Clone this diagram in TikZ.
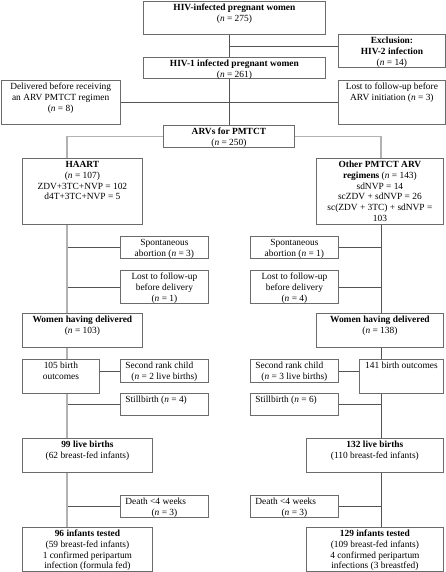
\documentclass[tikz,border=0pt]{standalone}
\usepackage{fontspec}
\setmainfont{Liberation Serif}

\definecolor{boxline}{gray}{0.42}
\definecolor{linkline}{gray}{0.33}
\definecolor{paleline}{gray}{0.70}

\newcommand{\ncount}[1]{(\textit{n} = #1)}
\newcommand{\cell}[3]{\parbox[t][\dimexpr#2pt-3pt][t]{\dimexpr#1pt-4pt}{\centering\strut #3}}

\tikzset{
	box/.style  = {draw=boxline, line width=0.8pt, anchor=north west, inner xsep=2pt, inner ysep=1.5pt, font=\fontsize{9.4}{10.8}\selectfont},
	link/.style = {draw=linkline, line width=0.8pt},
	pale/.style = {draw=paleline, line width=1.5pt}
}

\begin{document}
\begin{tikzpicture}[x=1pt,y=-1pt]
	\useasboundingbox (0,0) rectangle (446,572);
	% trunk positions
	\coordinate (lx) at (67,0);
	\coordinate (rx) at (381,0);
	\coordinate (exclj) at (228.5,46);

	% enrolment
	\node (top)   [box] at (143,1)   {\cell{182}{33}{\textbf{HIV-infected pregnant women}\\ \ncount{275}}};
	\node (excl)  [box] at (338,34)  {\cell{107}{33}{\textbf{Exclusion:}\\ \textbf{HIV-2 infection}\\ \ncount{14}}};
	\node (hiv1)  [box] at (143,57)  {\cell{182}{21}{\textbf{HIV-1 infected pregnant women}\\ \ncount{261}}};
	\node (deliv) [box] at (0.5,80)  {\cell{119.5}{44}{Delivered before receiving\\ an ARV PMTCT regimen\\ \ncount{8}}};
	\node (lost0) [box] at (338,80)  {\cell{107}{44}{Lost to follow-up before\\ ARV initiation \ncount{3}}};
	\node (arv)   [box] at (163,125) {\cell{131}{22}{\textbf{ARVs for PMTCT}\\ \ncount{250}}};

	% HAART arm
	\node (haart)   [box] at (22,158)  {\cell{120}{66}{\textbf{HAART}\\ \ncount{107}\\ ZDV+3TC+NVP = 102\\ d4T+3TC+NVP = 5}};
	\node (spontL)  [box] at (120,236) {\cell{88}{22}{Spontaneous\\ abortion \ncount{3}}};
	\node (lostL)   [box] at (120,270) {\cell{88}{33}{Lost to follow-up\\ before delivery\\ \ncount{1}}};
	\node (womenL)  [box] at (22,313)  {\cell{120}{34}{\textbf{Women having delivered}\\ \ncount{103}}};
	\node (birthL)  [box] at (22,359)  {\cell{77}{34}{105 birth\\ outcomes}};
	\node (secondL) [box] at (120,359) {\cell{88}{23}{\raggedright\hspace*{3pt}Second rank child\par\centering\ncount{2 live births}}};
	\node (stillL)  [box] at (120,393) {\cell{88}{22}{\raggedright\hspace*{3pt}Stillbirth \ncount{4}}};
	\node (liveL)   [box] at (22,438)  {\cell{130}{34}{\textbf{99 live births}\\ (62 breast-fed infants)}};
	\node (deathL)  [box] at (120,495) {\cell{88}{22}{\raggedright\hspace*{3pt}Death <4 weeks\par\centering\ncount{3}}};
	\node (testL)   [box] at (22,527)  {\cell{130}{44}{\textbf{96 infants tested}\\ (59 breast-fed infants)\\ 1 confirmed peripartum\\ infection (formula fed)}};

	% other regimens arm
	\node (other)   [box] at (316,158) {\cell{127}{66}{\textbf{Other PMTCT ARV}\\ \textbf{regimens} \ncount{143}\\ sdNVP = 14\\ scZDV + sdNVP = 26\\ sc(ZDV + 3TC) + sdNVP =\\ 103}};
	\node (spontR)  [box] at (250,236) {\cell{88}{22}{Spontaneous\\ abortion \ncount{1}}};
	\node (lostR)   [box] at (250,270) {\cell{88}{33}{Lost to follow-up\\ before delivery\\ \ncount{4}}};
	\node (womenR)  [box] at (316,313) {\cell{127}{34}{\textbf{Women having delivered}\\ \ncount{138}}};
	\node (secondR) [box] at (250,359) {\cell{88}{23}{\raggedright\hspace*{3pt}Second rank child\par\centering\ncount{3 live births}}};
	\node (birthR)  [box] at (359,359) {\cell{84}{34}{141 birth outcomes}};
	\node (stillR)  [box] at (250,393) {\cell{88}{22}{\raggedright\hspace*{3pt}Stillbirth \ncount{6}}};
	\node (liveR)   [box] at (306,438) {\cell{137}{34}{\textbf{132 live births}\\ (110 breast-fed infants)}};
	\node (deathR)  [box] at (250,495) {\cell{88}{22}{\raggedright\hspace*{3pt}Death <4 weeks\par\centering\ncount{3}}};
	\node (testR)   [box] at (306,527) {\cell{137}{44}{\textbf{129 infants tested}\\ (109 breast-fed infants)\\ 4 confirmed peripartum\\ infections (3 breastfed)}};

	% top connectors
	\draw[link] (top.south -| arv.north) -- (hiv1.north -| arv.north);
	\draw[link] (exclj) -- (exclj -| excl.west);
	\draw[link] (hiv1.south -| arv.north) -- (arv.north);
	\draw[link] (deliv.east) -- (lost0.west);
	\draw[pale] (haart.north -| lx) |- (arv.west);
	\draw[pale] (arv.east) -| (other.north -| rx);

	% left arm
	\draw[link] (spontL.west) -- (spontL.west -| lx);
	\draw[link] (lostL.west) -- (lostL.west -| lx);
	\draw[link] (secondL.west) -- (secondL.west -| birthL.east);
	\draw[link] (stillL.west) -- (stillL.west -| lx);
	\draw[link] (deathL.west) -- (deathL.west -| lx);
	\draw[pale] (haart.south -| lx) -- (womenL.north -| lx)
		(womenL.south -| lx) -- (birthL.north -| lx)
		(birthL.south -| lx) -- (liveL.north -| lx)
		(liveL.south -| lx) -- (testL.north -| lx);

	% right arm
	\draw[link] (spontR.east) -- (spontR.east -| rx);
	\draw[link] (lostR.east) -- (lostR.east -| rx);
	\draw[link] (secondR.east) -- (secondR.east -| birthR.west);
	\draw[link] (stillR.east) -- (stillR.east -| rx);
	\draw[link] (deathR.east) -- (deathR.east -| rx);
	\draw[link] (other.south -| rx) -- (womenR.north -| rx)
		(womenR.south -| rx) -- (birthR.north -| rx)
		(birthR.south -| rx) -- (liveR.north -| rx)
		(liveR.south -| rx) -- (testR.north -| rx);
\end{tikzpicture}
\end{document}
